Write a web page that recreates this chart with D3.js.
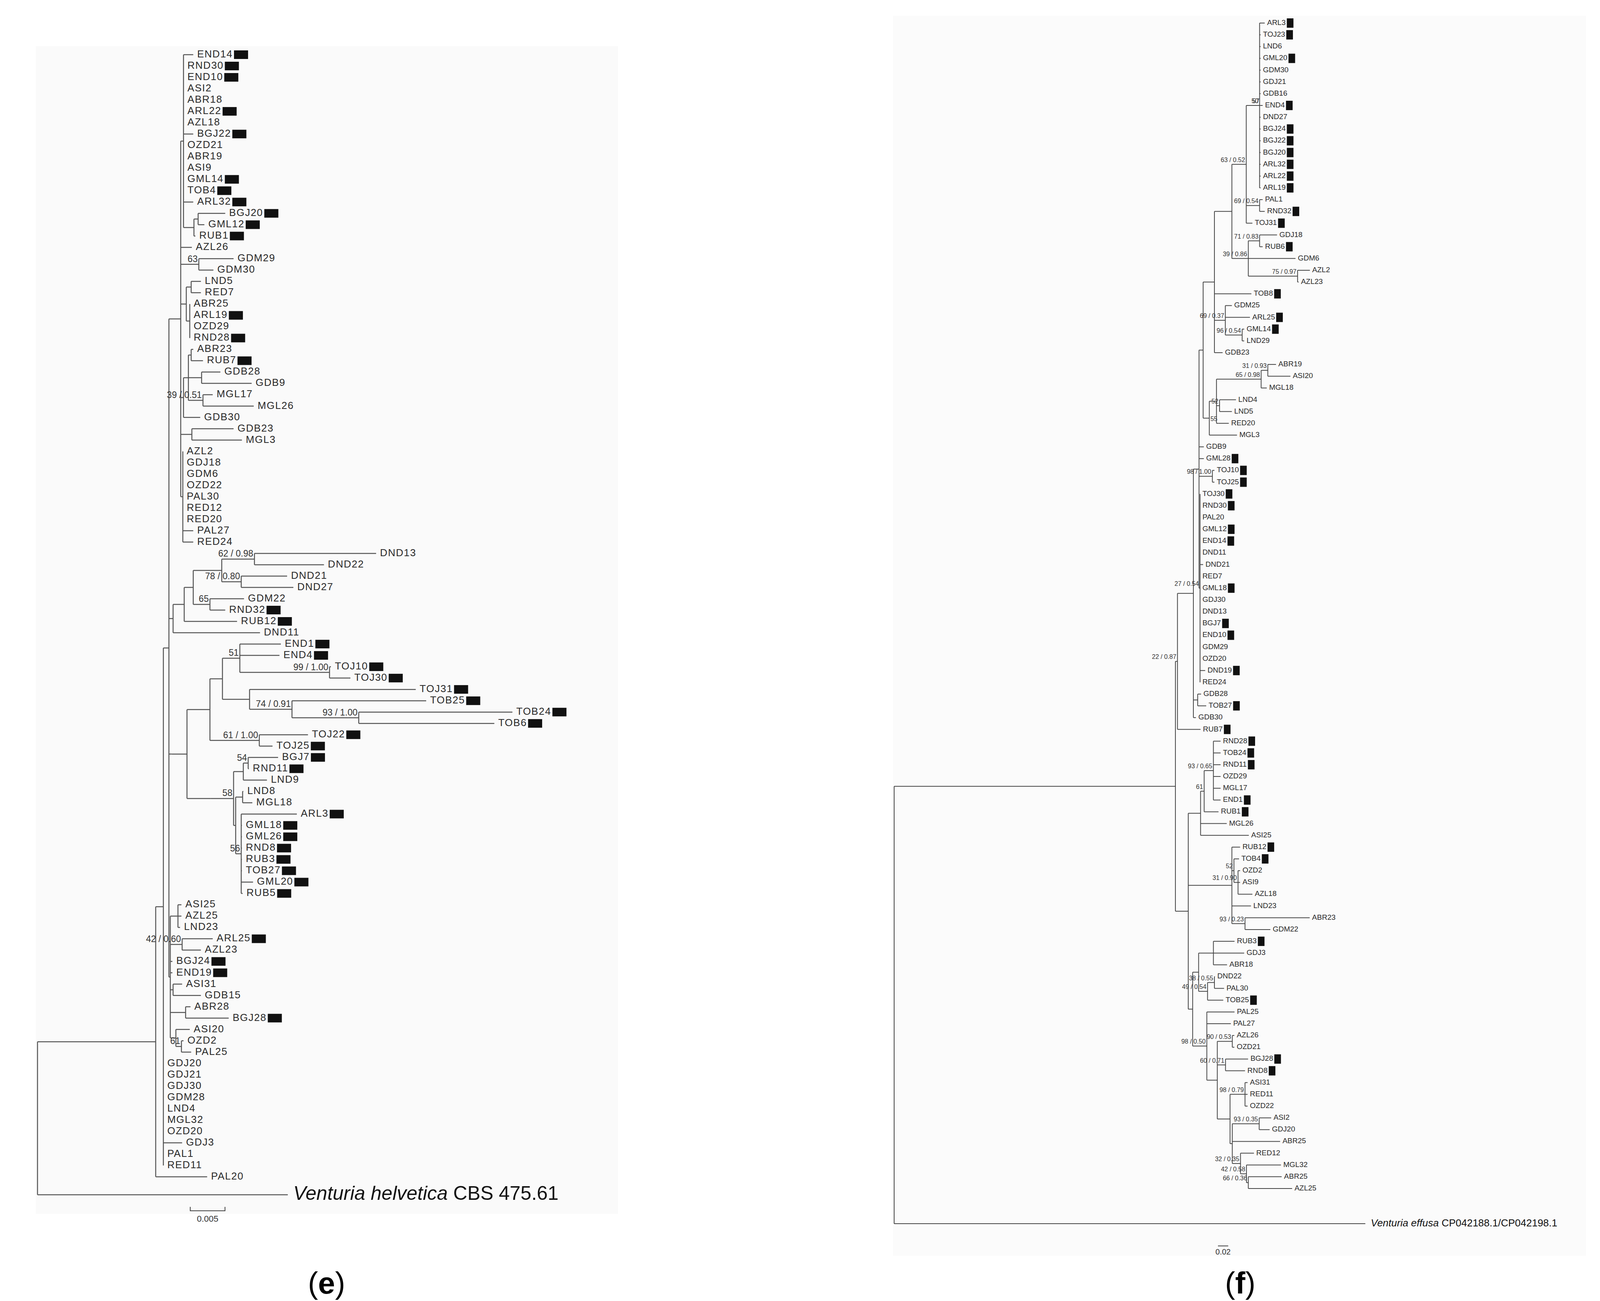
<!DOCTYPE html>
<html>
<head>
<meta charset="utf-8">
<script src="https://cdn.jsdelivr.net/npm/d3@7"></script>
<style>
  body { margin: 0; background: #fff; }
  text { font-family: "Liberation Sans", Arial, sans-serif; }
</style>
</head>
<body>
<script>
// tree (e): branch lengths in 0.001 subst./site
const newickE = [
  "((((((",
  "(END14:1.4,RND30:0,END10:0,ASI2:0,ABR18:0,ARL22:0,AZL18:0,BGJ22:1.4,OZD21:0,ABR19:0,ASI9:0,GML14:0,TOB4:0,ARL32:1.4,((BGJ20:3.9,GML12:0.9):0.6,RUB1:0.2):1.5):0.4,",
  "AZL26:1.6,",
  "(GDM29:5.0,GDM30:2.1)'63':2.6,",
  "((LND5:1.4,RED7:1.4):0.7,(ABR25:0,ARL19:0,OZD29:0,RND28:0):0.5):0.8,",
  "(((ABR23:0.3,RUB7:1.7):0.4,(GDB28:2.7,GDB9:7.2):1.9,(MGL17:1.4,MGL26:7.3)'39 / 0.51':2.1):0.7,GDB30:2.4):0.4,",
  "(GDB23:6.0,MGL3:7.2):1.6,",
  "(AZL2:0,GDJ18:0,GDM6:0,OZD22:0,PAL30:0,RED12:0,RED20:0,PAL27:1.5,RED24:1.5):0.3",
  "):1.7,(",
  "((((DND13:17.5,DND22:10.0)'62 / 0.98':4.7,(DND21:6.6,DND27:7.5)'78 / 0.80':2.8):4.1,(GDM22:4.9,RND32:2.2)'65':2.4):1.3,RUB12:7.6):1.6,DND11:12.5):0.6,",
  "(((((END1:5.9,END4:5.7,(TOJ10:0.2,TOJ30:3.0)'99 / 1.00':12.9)'51':2.5,(TOJ31:23.9,(TOB25:19.3,(TOB24:22.1,TOB6:19.5)'93 / 1.00':9.6)'74 / 0.91':6.1):3.9):1.8,(TOJ22:7.0,TOJ25:1.9)'61 / 1.00':7.1):3.3,",
  "((((BGJ7:4.3,RND11:0.1)'54':0.7,LND9:3.4):1.4,((LND8:0.1,MGL18:1.4):1.0,(ARL3:8.0,GML18:0.1,GML26:0.1,RND8:0.1,RUB3:0.1,TOB27:0.1,GML20:1.7,RUB5:0.2)'56':0.8):0.3)'58':3.3):3.4",
  "):2.2):0.4,",
  "((ASI25:0.5,AZL25:0.5,LND23:0.3):1.1,(ARL25:4.4,AZL23:2.7)'42 / 0.60':1.7,BGJ24:0.3,END19:0.3,(ASI31:1.3,GDB15:4.0):0.4,(ABR28:0.7,BGJ28:6.2):2.2,(ASI20:2.0,(OZD2:0.3,PAL25:1.4)'61':0.8):0.8):0.2",
  "):0.8,GDJ20:0,GDJ21:0,GDJ30:0,GDM28:0,LND4:0,MGL32:0,OZD20:0,GDJ3:2.7,PAL1:0,RED11:0):1.1,PAL20:7.4):17.0,",
  "'Venturia helvetica CBS 475.61':36.0);"
].join("");

const markedE = ["END14","RND30","END10","ARL22","BGJ22","GML14","TOB4","ARL32","BGJ20","GML12","RUB1",
  "ARL19","RND28","RUB7","RND32","RUB12","END1","END4","TOJ10","TOJ30","TOJ31","TOB25","TOB24","TOB6",
  "TOJ22","TOJ25","BGJ7","RND11","ARL3","GML18","GML26","RND8","RUB3","TOB27","GML20","RUB5","ARL25",
  "BGJ24","END19","BGJ28"];

// tree (f): branch lengths in 0.002 subst./site
const newickF = [
  "((((((((((ARL3:5,TOJ23:1,LND6:1,GML20:1,GDM30:1,GDJ21:1,GDB16:1,(END4:2)'57':1,DND27:1,BGJ24:1,BGJ22:1,BGJ20:1,ARL32:1,ARL22:1,ARL19:1)'50':13,",
  "(PAL1:3,RND32:5)'69 / 0.54':13,TOJ31:6)'63 / 0.52':14,",
  "((GDJ18:17,RUB6:3)'71 / 0.83':11,GDM6:46,(AZL2:12,AZL23:1)'75 / 0.97':48)'39 / 0.86':16):17,",
  "TOB8:36,(GDM25:6.4,ARL25:24,(GML14:2,LND29:2)'96 / 0.54':16.4)'69 / 0.37':10.6,GDB23:8):11,",
  "((((ABR19:8,ASI20:22)'31 / 0.93':6.5,MGL18:5.5)'65 / 0.98':43.5,(LND4:16,LND5:12)'52':3,(RED20:10)'55':2):7,MGL3:27):6):4,",
  "GDB9:4.7,GML28:4.7,(TOJ10:2,TOJ25:2)'98 / 1.00':13,",
  "(TOJ30:0,RND30:0,PAL20:0,GML12:0,END14:0,DND11:0,DND21:3,RED7:0,GML18:0,GDJ30:0,DND13:0,BGJ7:0,END10:0,GDM29:0,OZD20:0,DND19:5,RED24:0)'27 / 0.54':1):5.5,",
  "(GDB28:3.3,TOB27:8.3):4.2,GDB30:2.5):15.5,RUB7:22.5)'22 / 0.87':2,",
  "((((RND28:7,TOB24:7,RND11:7,OZD29:7,MGL17:7,END1:7)'93 / 0.65':9,RUB1:14)'61':3.5,MGL26:25.5,ASI25:47):12,",
  "(RUB12:8,(TOB4:5,(OZD2:2,ASI9:2,AZL18:14)'31 / 0.90':4)'52':2,LND23:18.6,(ABR23:63,GDM22:24.7)'93 / 0.23':12.8):42.5,",
  "(((RUB3:20.6,GDJ3:30,ABR18:13.3):14.4,((DND22:0.5,PAL30:9.4)'38 / 0.55':6.7,TOB25:15.3)'49 / 0.54':8.7):5.8,",
  "(PAL25:27,PAL27:23.4,((AZL26:2,OZD21:2)'90 / 0.53':14.6,(BGJ28:22,RND8:19)'60 / 0.71':8,",
  "((ASI31:2.5,RED11:2.5,OZD22:2.5)'98 / 0.79':14.6,((ASI2:11.7,GDJ20:10.2)'93 / 0.35':26.2,ABR25:46.6,",
  "(RED12:13.1,(MGL32:33.6,(ABR25:32.5,AZL25:42.7)'66 / 0.36':1.8)'42 / 0.58':5.8)'32 / 0.35':8):2.2):12.4):10.2)'98 / 0.50':13.8):4.3):12.5",
  "):274,'Venturia effusa CP042188.1/CP042198.1':459);"
].join("");

const markedF = ["ARL3","TOJ23","GML20","END4","BGJ24","BGJ22","BGJ20","ARL32","ARL22","ARL19","RND32","TOJ31",
  "RUB6","TOB8","ARL25","GML14","GML28","TOJ10","TOJ25","TOJ30","RND30","GML12","END14","GML18","BGJ7",
  "END10","DND19","TOB27","RUB7","RND28","TOB24","RND11","END1","RUB1","RUB12","TOB4","RUB3","TOB25",
  "BGJ28","RND8"];

const panelLabels = ["(e)", "(f)"];
const scaleLabels = ["0.005", "0.02"];

function parseNewick(s) {
  let i = 0;
  function label() {
    while (s[i] === " ") i++;
    let t = "";
    if (s[i] === "'") { i++; while (s[i] !== "'") t += s[i++]; i++; }
    else { while (i < s.length && ",():;".indexOf(s[i]) < 0) t += s[i++]; }
    return t.trim();
  }
  function node() {
    const n = {};
    if (s[i] === "(") {
      i++;
      n.children = [];
      do { n.children.push(node()); } while (s[i++] === ",");
    }
    n.name = label();
    n.len = 0;
    if (s[i] === ":") {
      i++;
      let t = "";
      while (",);".indexOf(s[i]) < 0) t += s[i++];
      n.len = parseFloat(t);
    }
    return n;
  }
  return node();
}

const W = 4100, H = 3331;
const svg = d3.select("body").append("svg").attr("width", W).attr("height", H);

// faint panel backgrounds
svg.append("rect").attr("x", 92).attr("y", 118).attr("width", 1490).attr("height", 2990).attr("fill", "#fafafa");
svg.append("rect").attr("x", 2286).attr("y", 40).attr("width", 1774).attr("height", 3175).attr("fill", "#fbfbfb");

function drawTree(cfg) {
  const root = d3.hierarchy(parseNewick(cfg.newick));
  root.each(d => { d.dist = d.parent ? d.parent.dist + d.data.len : 0; });
  const x = d3.scaleLinear().domain([0, 1]).range([cfg.x0, cfg.x0 + cfg.unitPx]);
  const leaves = root.leaves();
  const y = d3.scaleLinear().domain([0, leaves.length - 2]).range([cfg.y0, cfg.y1]);
  leaves.forEach((d, k) => { d.py = k === leaves.length - 1 ? cfg.yOut : y(k); });
  root.eachAfter(d => {
    if (d.children) d.py = (d.children[0].py + d.children[d.children.length - 1].py) / 2;
  });

  const g = svg.append("g");
  const links = root.descendants().filter(d => d.parent);
  g.selectAll("line.h").data(links).join("line")
    .attr("x1", d => x(d.parent.dist)).attr("x2", d => x(d.dist))
    .attr("y1", d => d.py).attr("y2", d => d.py)
    .attr("stroke", cfg.stroke).attr("stroke-width", cfg.sw);
  g.selectAll("line.v").data(root.descendants().filter(d => d.children)).join("line")
    .attr("x1", d => x(d.dist)).attr("x2", d => x(d.dist))
    .attr("y1", d => d.children[0].py).attr("y2", d => d.children[d.children.length - 1].py)
    .attr("stroke", cfg.stroke).attr("stroke-width", cfg.sw);

  // support values
  g.selectAll("text.sup").data(root.descendants().filter(d => d.children && d.data.name)).join("text")
    .attr("x", d => x(d.dist) - 3).attr("y", d => d.py - 6)
    .attr("text-anchor", "end").attr("font-size", cfg.supFont).attr("fill", "#333")
    .text(d => d.data.name);

  const inLeaves = leaves.slice(0, -1);
  const lab = g.selectAll("text.leaf").data(inLeaves).join("text")
    .attr("x", d => x(d.dist) + cfg.gap).attr("y", d => d.py)
    .attr("dominant-baseline", "middle").attr("font-size", cfg.font)
    .attr("letter-spacing", cfg.ls).attr("fill", "#2a2a2a")
    .text(d => d.data.name);
  lab.each(function(d) {
    if (cfg.marked.indexOf(d.data.name) < 0) return;
    const w = this.getComputedTextLength();
    g.append("rect")
      .attr("x", x(d.dist) + cfg.gap + w + 3).attr("y", d.py - cfg.boxH / 2)
      .attr("width", cfg.boxW).attr("height", cfg.boxH).attr("fill", "#111");
  });

  // outgroup label: genus and species in italics
  const og = leaves[leaves.length - 1];
  const parts = og.data.name.split(" ");
  const t = g.append("text").attr("x", x(og.dist) + 14).attr("y", og.py)
    .attr("dominant-baseline", "middle").attr("font-size", cfg.outFont).attr("fill", "#111");
  t.append("tspan").attr("font-style", "italic").text(parts.slice(0, 2).join(" ") + " ");
  t.append("tspan").text(parts.slice(2).join(" "));
}

drawTree({ newick: newickE, marked: markedE, x0: 96, unitPx: 17.8, y0: 140, y1: 3013, yOut: 3059,
  font: 26, ls: 1.5, gap: 10, boxW: 36, boxH: 22, supFont: 23, outFont: 50, stroke: "#555", sw: 2.5 });
drawTree({ newick: newickF, marked: markedF, x0: 2289, unitPx: 2.628, y0: 59, y1: 3043, yOut: 3133,
  font: 19, ls: 0, gap: 6, boxW: 17, boxH: 24, supFont: 16, outFont: 26, stroke: "#444", sw: 2 });

// scale bars
const sbE = d3.scaleLinear().domain([0, 0.001]).range([0, 17.8]);
svg.append("path").attr("d", `M487,3090V3100H${487 + sbE(0.005)}V3090`).attr("fill", "none").attr("stroke", "#444").attr("stroke-width", 2);
svg.append("text").attr("x", 487 + sbE(0.005) / 2).attr("y", 3128).attr("text-anchor", "middle").attr("font-size", 22).attr("fill", "#333").text(scaleLabels[0]);
const sbF = d3.scaleLinear().domain([0, 0.002]).range([0, 2.628]);
svg.append("line").attr("x1", 3118).attr("x2", 3118 + sbF(0.02)).attr("y1", 3190).attr("y2", 3190).attr("stroke", "#444").attr("stroke-width", 2);
svg.append("text").attr("x", 3131).attr("y", 3212).attr("text-anchor", "middle").attr("font-size", 20).attr("fill", "#333").text(scaleLabels[1]);

// panel labels
[[836, panelLabels[0]], [3175, panelLabels[1]]].forEach(([px, s]) => {
  const t = svg.append("text").attr("x", px).attr("y", 3312).attr("text-anchor", "middle")
    .attr("font-family", "Liberation Serif, serif").attr("font-size", 78).attr("fill", "#000");
  t.append("tspan").text("(");
  t.append("tspan").attr("font-weight", "bold").text(s.slice(1, 2));
  t.append("tspan").text(")");
});
</script>
</body>
</html>
